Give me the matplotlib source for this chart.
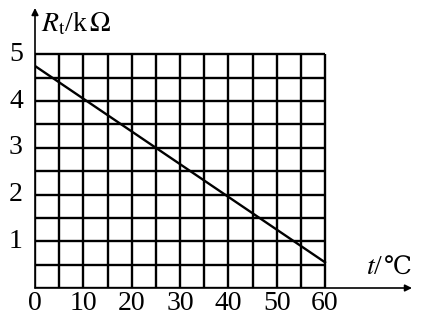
import matplotlib
matplotlib.use("Agg")
import matplotlib.pyplot as plt
import numpy as np

# data
t_vals = [0, 60]            # temperature, degC
r_vals = [4.75, 0.55]       # resistance, kOhm
x_ticks = [0, 10, 20, 30, 40, 50, 60]
y_ticks = [1, 2, 3, 4, 5]
x_grid = np.arange(0, 61, 5)
y_grid = np.arange(0, 5.01, 0.5)

plt.rcParams['font.family'] = ['Liberation Serif', 'DejaVu Serif']
plt.rcParams['mathtext.fontset'] = 'stix'

W, H = 423, 320
fig = plt.figure(figsize=(W / 100, H / 100), dpi=100)
# axes placed so that t=0 -> px 35, R=0 -> px 288
ax = fig.add_axes([35 / W, (H - 288) / H, (412 - 35) / W, (288 - 8) / H])
px_x = (325 - 35) / 60.0   # pixels per degC
px_y = (288 - 54.3) / 5.0  # pixels per kOhm
ax.set_xlim(0, (412 - 35) / px_x)
ax.set_ylim(0, (288 - 8) / px_y)
ax.axis('off')

lw = 1.7
for xv in x_grid:
    ax.plot([xv, xv], [0, 5], color='black', lw=lw, solid_capstyle='butt')
for yv in y_grid:
    ax.plot([0, 60], [yv, yv], color='black', lw=lw, solid_capstyle='butt')

# the R-t line
ax.plot(t_vals, r_vals, color='black', lw=lw)

# axes with arrows
xmax = ax.get_xlim()[1]
ymax = ax.get_ylim()[1]
ax.annotate('', xy=(xmax, 0), xytext=(0, 0),
            arrowprops=dict(arrowstyle='-|>', color='black', lw=1.2,
                            mutation_scale=10, shrinkA=0, shrinkB=0))
ax.annotate('', xy=(0, ymax), xytext=(0, 0),
            arrowprops=dict(arrowstyle='-|>', color='black', lw=1.2,
                            mutation_scale=10, shrinkA=0, shrinkB=0))

fs = 20
for xv in x_ticks:
    ax.text(xv, -15 / px_y, str(xv), ha='center', va='center', fontsize=fs)
for yv in y_ticks:
    ax.text(-19 / px_x, yv, str(yv), ha='center', va='center', fontsize=fs)

ax.text(6 / px_x, (288 - 24) / px_y, r'$R_{\rm t}$/k$\,\Omega$',
        ha='left', va='center', fontsize=fs, clip_on=False)
ax.text((366 - 35) / px_x, (288 - 268) / px_y, r'$t$/',
        ha='left', va='center', fontsize=fs, clip_on=False)
ax.text((384 - 35) / px_x, (288 - 268) / px_y, '℃', family='DejaVu Serif',
        ha='left', va='center', fontsize=fs - 2, clip_on=False)

fig.savefig('out.png', dpi=100, facecolor='white')
